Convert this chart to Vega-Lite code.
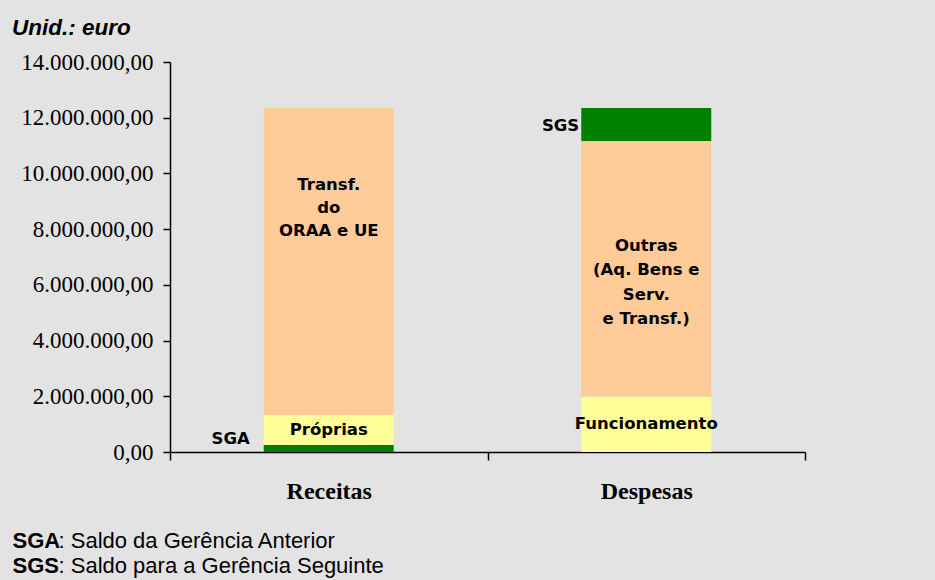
{
  "$schema": "https://vega.github.io/schema/vega-lite/v6.json",
  "width": 635,
  "height": 390,
  "autosize": "none",
  "padding": {"left": 170, "top": 62, "right": 130, "bottom": 128},
  "background": "#e3e3e3",
  "title": {
    "text": "Unid.: euro",
    "anchor": "start",
    "frame": "group",
    "dx": -158,
    "offset": 12,
    "font": "Liberation Sans",
    "fontSize": 22.5,
    "fontWeight": "bold",
    "fontStyle": "italic",
    "color": "#000000"
  },
  "config": {
    "view": {"stroke": null},
    "locale": {"number": {"decimal": ",", "thousands": ".", "grouping": [3], "currency": ["", " €"]}}
  },
  "data": {
    "values": [
      {"cat": "Receitas", "seg": "SGA", "ord": 1, "value": 250000, "label": "SGA"},
      {"cat": "Receitas", "seg": "Próprias", "ord": 2, "value": 1080000, "label": "Próprias"},
      {"cat": "Receitas", "seg": "Transf", "ord": 3, "value": 11020000, "label": "Transf.\ndo\nORAA e UE"},
      {"cat": "Despesas", "seg": "Funcionamento", "ord": 1, "value": 1985000, "label": "Funcionamento"},
      {"cat": "Despesas", "seg": "Outras", "ord": 2, "value": 9175000, "label": "Outras\n(Aq. Bens e\nServ.\ne Transf.)"},
      {"cat": "Despesas", "seg": "SGS", "ord": 3, "value": 1190000, "label": "SGS"}
    ]
  },
  "transform": [
    {"stack": "value", "groupby": ["cat"], "sort": [{"field": "ord", "order": "ascending"}], "as": ["v0", "v1"]},
    {"calculate": "(datum.v0 + datum.v1) / 2", "as": "mid"}
  ],
  "encoding": {
    "x": {
      "field": "cat",
      "type": "nominal",
      "sort": ["Receitas", "Despesas"],
      "scale": {"paddingInner": 0, "paddingOuter": 0},
      "axis": {
        "labelAngle": 0,
        "labelFont": "Liberation Serif",
        "labelFontSize": 24,
        "labelFontWeight": "bold",
        "labelColor": "#000000",
        "labelPadding": 19,
        "tickBand": "extent",
        "tickSize": 8,
        "tickColor": "#000000",
        "tickWidth": 1.5,
        "domainColor": "#000000",
        "domainWidth": 1.5,
        "title": ["SGA", "SGS"],
        "titleFont": "Liberation Sans",
        "titleFontSize": 22,
        "titleFontWeight": "bold",
        "titleColor": "#000000",
        "titleAlign": "left",
        "titleAnchor": null,
        "titleBaseline": "alphabetic",
        "titleLineHeight": 25,
        "titleX": -158,
        "titleY": 95
      }
    }
  },
  "layer": [
    {
      "mark": {"type": "bar", "size": 130},
      "encoding": {
        "y": {
          "field": "v0",
          "type": "quantitative",
          "scale": {"domain": [0, 14000000], "nice": false},
          "axis": {
            "values": [0, 2000000, 4000000, 6000000, 8000000, 10000000, 12000000, 14000000],
            "format": ",.2f",
            "grid": false,
            "labelFont": "Liberation Serif",
            "labelFontSize": 23,
            "labelColor": "#000000",
            "labelPadding": 10,
            "tickSize": 7,
            "tickColor": "#000000",
            "tickWidth": 1.5,
            "domainColor": "#000000",
            "domainWidth": 1.5,
            "title": [": Saldo da Gerência Anterior", ": Saldo para a Gerência Seguinte"],
            "titleFont": "Liberation Sans",
            "titleFontSize": 22,
            "titleFontWeight": "normal",
            "titleColor": "#000000",
            "titleAngle": 0,
            "titleAlign": "left",
            "titleAnchor": null,
            "titleBaseline": "alphabetic",
            "titleLineHeight": 25,
            "titleX": -112,
            "titleY": 485
          }
        },
        "y2": {"field": "v1"},
        "color": {
          "field": "seg",
          "type": "nominal",
          "scale": {
            "domain": ["SGA", "Próprias", "Transf", "Funcionamento", "Outras", "SGS"],
            "range": ["#008000", "#ffff99", "#ffcc99", "#ffff99", "#ffcc99", "#008000"]
          },
          "legend": null
        }
      }
    },
    {
      "transform": [{"filter": "datum.seg === 'Próprias' || datum.seg === 'Funcionamento'"}],
      "mark": {"type": "text", "font": "DejaVu Sans", "fontSize": 16.5, "fontWeight": "bold", "color": "#000000", "baseline": "middle", "align": "center"},
      "encoding": {
        "y": {"field": "mid", "type": "quantitative"},
        "text": {"field": "label"}
      }
    },
    {
      "transform": [{"filter": "datum.seg === 'Transf'"}],
      "mark": {"type": "text", "font": "DejaVu Sans", "fontSize": 16.5, "fontWeight": "bold", "color": "#000000", "baseline": "middle", "align": "center", "lineBreak": "\n", "lineHeight": 23, "dy": -76},
      "encoding": {
        "y": {"field": "mid", "type": "quantitative"},
        "text": {"field": "label"}
      }
    },
    {
      "transform": [{"filter": "datum.seg === 'Outras'"}],
      "mark": {"type": "text", "font": "DejaVu Sans", "fontSize": 16.5, "fontWeight": "bold", "color": "#000000", "baseline": "middle", "align": "center", "lineBreak": "\n", "lineHeight": 24.5, "dy": -23},
      "encoding": {
        "y": {"field": "mid", "type": "quantitative"},
        "text": {"field": "label"}
      }
    },
    {
      "transform": [{"filter": "datum.seg === 'SGA'"}],
      "mark": {"type": "text", "font": "DejaVu Sans", "fontSize": 16.5, "fontWeight": "bold", "color": "#000000", "baseline": "middle", "align": "right", "dx": -79, "dy": -10},
      "encoding": {
        "y": {"field": "mid", "type": "quantitative"},
        "text": {"field": "label"}
      }
    },
    {
      "transform": [{"filter": "datum.seg === 'SGS'"}],
      "mark": {"type": "text", "font": "DejaVu Sans", "fontSize": 16.5, "fontWeight": "bold", "color": "#000000", "baseline": "middle", "align": "right", "dx": -67, "dy": 1},
      "encoding": {
        "y": {"field": "mid", "type": "quantitative"},
        "text": {"field": "label"}
      }
    }
  ]
}
